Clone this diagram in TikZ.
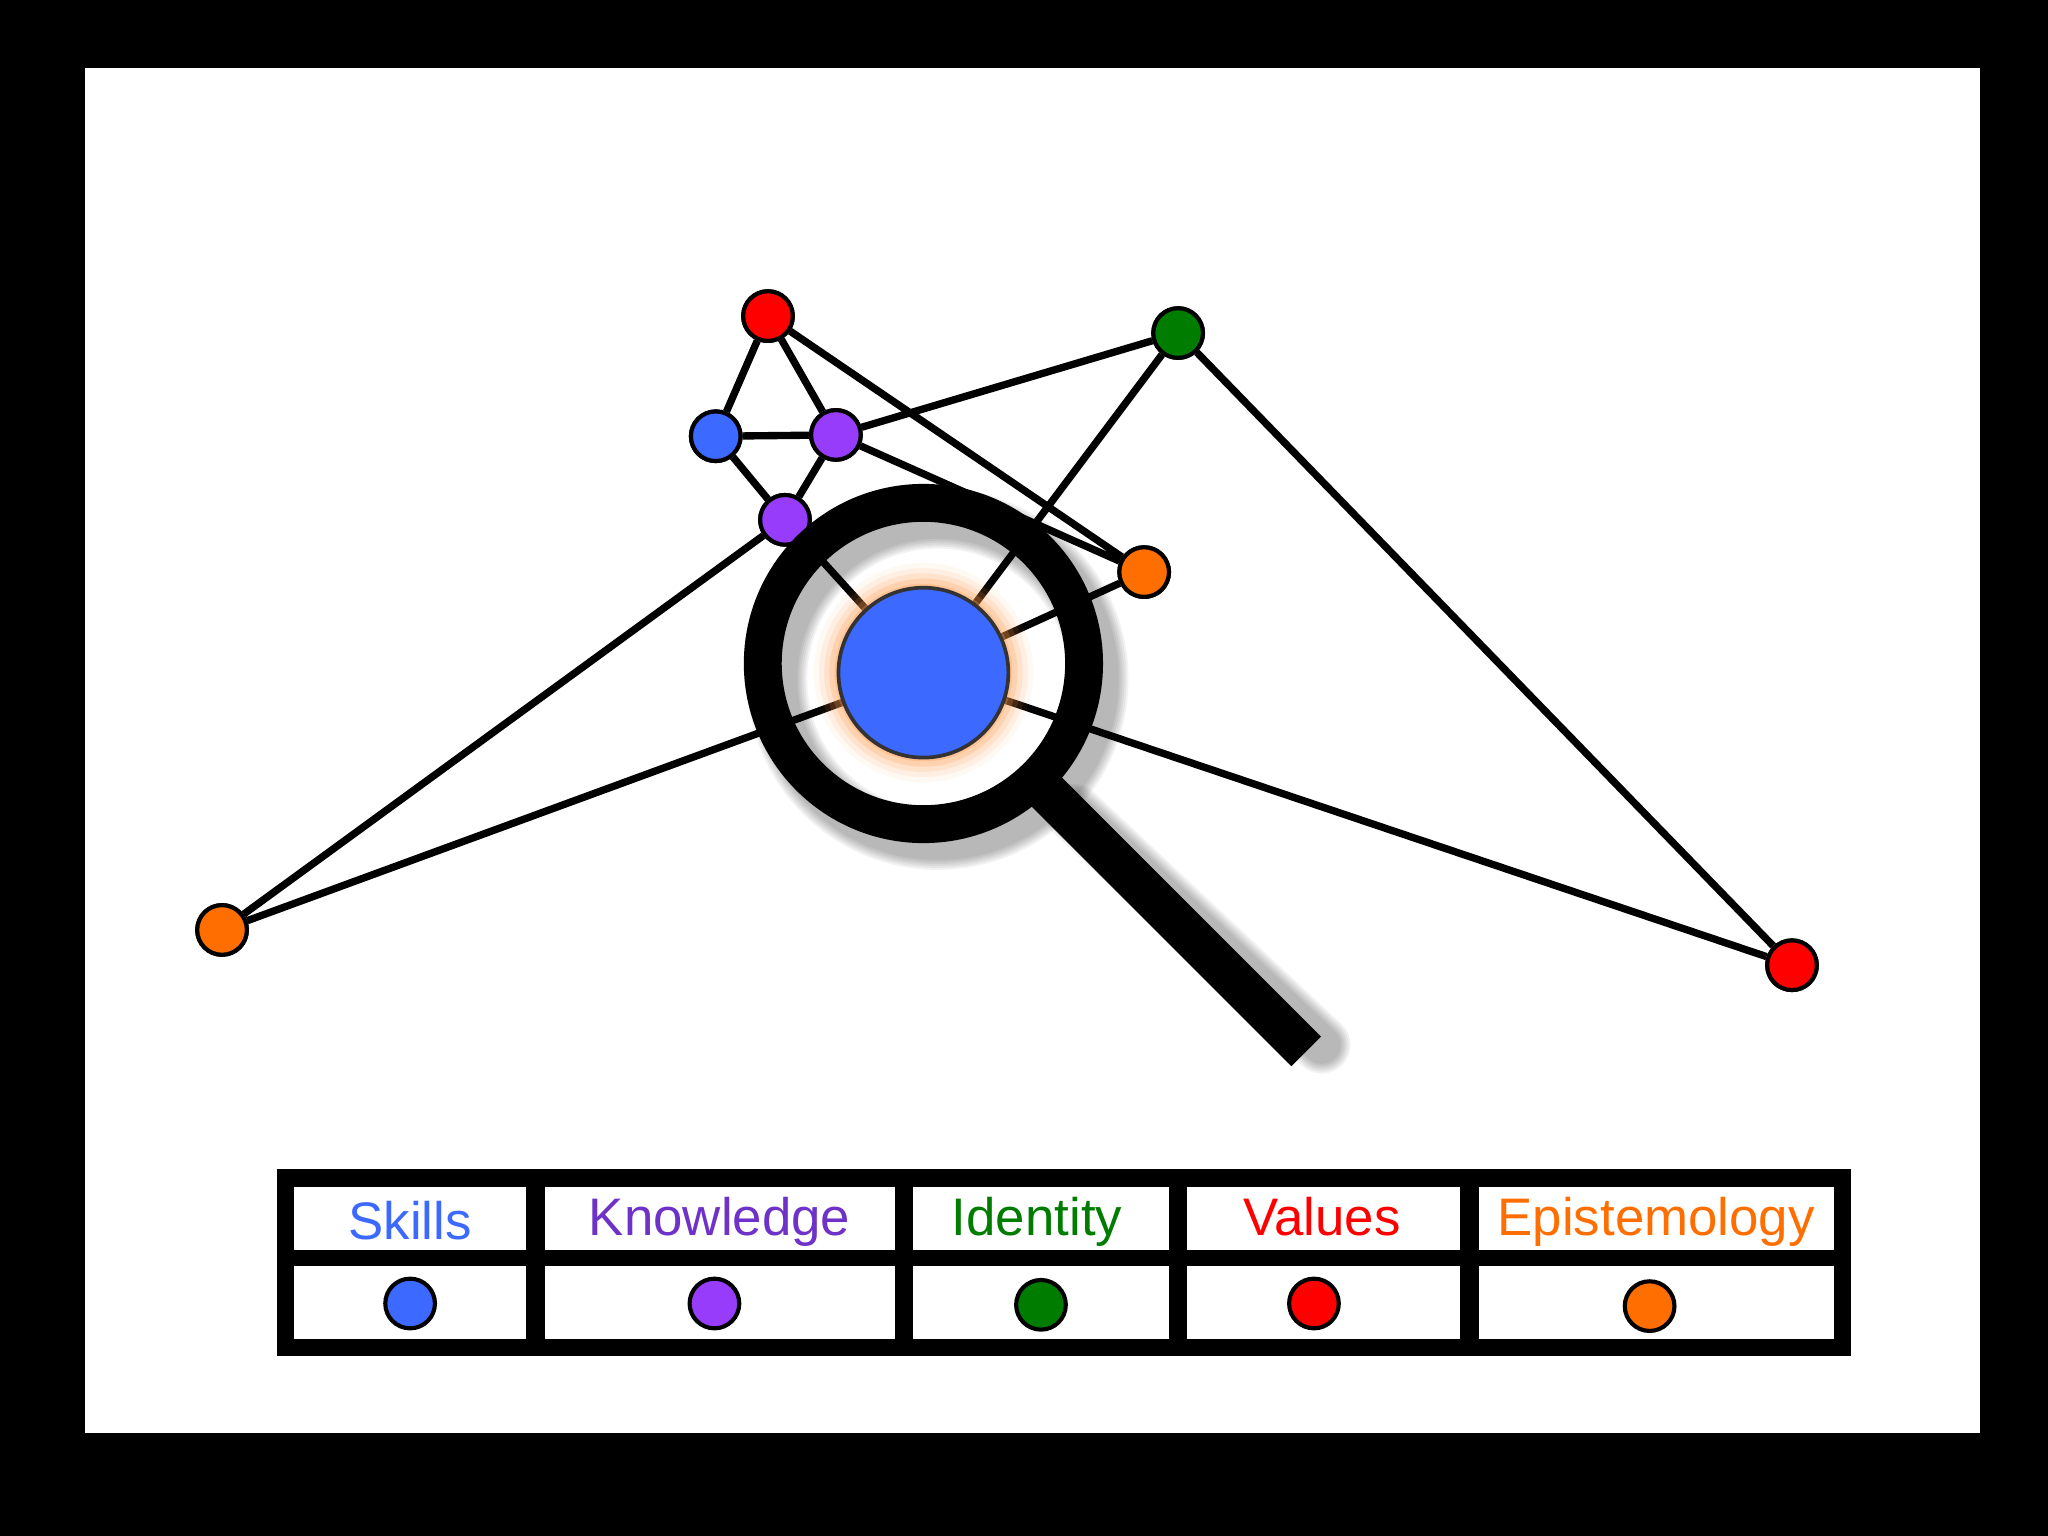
\documentclass[tikz,border=0pt]{standalone}
\usepackage{fontspec}
\setmainfont{Liberation Sans}
\begin{document}
\begin{tikzpicture}[x=0.01cm,y=-0.01cm,
  dot/.style={circle,draw=black,line width=0.9pt,minimum size=0.38cm,inner sep=0pt},
  edge/.style={line width=1.6pt},
  lbl/.style={font=\fontsize{11.5}{11.5}\selectfont}]
\definecolor{cb}{RGB}{60,105,255}
\definecolor{cp}{RGB}{150,60,250}
\definecolor{cg}{RGB}{0,125,0}
\definecolor{cr}{RGB}{255,0,0}
\definecolor{co}{RGB}{255,110,0}
\definecolor{tp}{RGB}{110,50,200}
\fill[black] (0,0) rectangle (1568,1176);
\fill[white] (65,52) rectangle (1516,1097);
\useasboundingbox (0,0) rectangle (1568,1176);
% nodes
\node[dot,fill=cr] (r1) at (588,242) {};
\node[dot,fill=cg] (g) at (902,255) {};
\node[dot,fill=cb] (b) at (548,334) {};
\node[dot,fill=cp] (p1) at (640,333) {};
\node[dot,fill=cp] (p2) at (601,398) {};
\node[dot,fill=co] (o1) at (876,438) {};
\node[dot,fill=co] (o2) at (170,712) {};
\node[dot,fill=cr] (r2) at (1372,739) {};
\coordinate (c) at (707,515);
\draw[edge] (r1)--(b) (r1)--(p1) (r1)--(o1) (b)--(p1) (b)--(p2) (p1)--(p2)
  (p1)--(g) (p1)--(o1) (g)--(r2) (p2)--(o2)
  (c)--(p2) (c)--(g) (c)--(o1) (c)--(o2) (c)--(r2);
\foreach \n/\col in {r1/cr,g/cg,b/cb,p1/cp,p2/cp,o1/co,o2/co,r2/cr}
  \node[dot,fill=\col] at (\n) {};
% shadow
\foreach \k in {1,...,6}{
  \draw[black,opacity=0.05,line width={(28+3*\k)*0.01cm}] (718,520) circle (123);
  \draw[black,opacity=0.05,line width={(26+3*\k)*0.01cm},line cap=round] (822,622)--(1012,800);
}
% glow
\foreach \rr/\op in {84/0.06,80/0.1,76/0.15,72/0.22,68/0.3}
  \fill[co!70,opacity=\op] (c) circle (\rr);
\node[circle,draw=black!80,line width=0.8pt,fill=cb,minimum size=1.3cm,inner sep=0pt] (cn) at (c) {};
% magnifier
\draw[black,line width=0.29cm] (707,508) circle (123);
\draw[black,line width=0.32cm] (800,605)--(1000,805);
% legend
\fill[black] (212,895) rectangle (1417,1038);
\foreach \xa/\xb in {225/403,417/685,699/895,909/1118,1132/1404}{
  \fill[white] (\xa,909) rectangle (\xb,957);
  \fill[white] (\xa,969) rectangle (\xb,1025);
}
\node[lbl,text=cb,anchor=base] (t1) at (314,949) {Skills};
\node[lbl,text=tp,anchor=base] (t2) at (551,946) {Knowledge};
\node[lbl,text=cg,anchor=base] (t3) at (794,946) {Identity};
\node[lbl,text=cr,anchor=base] (t4) at (1012,946) {Values};
\node[lbl,text=co,anchor=base] (t5) at (1268,946) {Epistemology};
\node[dot,fill=cb] (l1) at (314,998) {};
\node[dot,fill=cp] (l2) at (547,998) {};
\node[dot,fill=cg] (l3) at (797,999) {};
\node[dot,fill=cr] (l4) at (1006,998) {};
\node[dot,fill=co] (l5) at (1263,1000) {};
\end{tikzpicture}
\end{document}
